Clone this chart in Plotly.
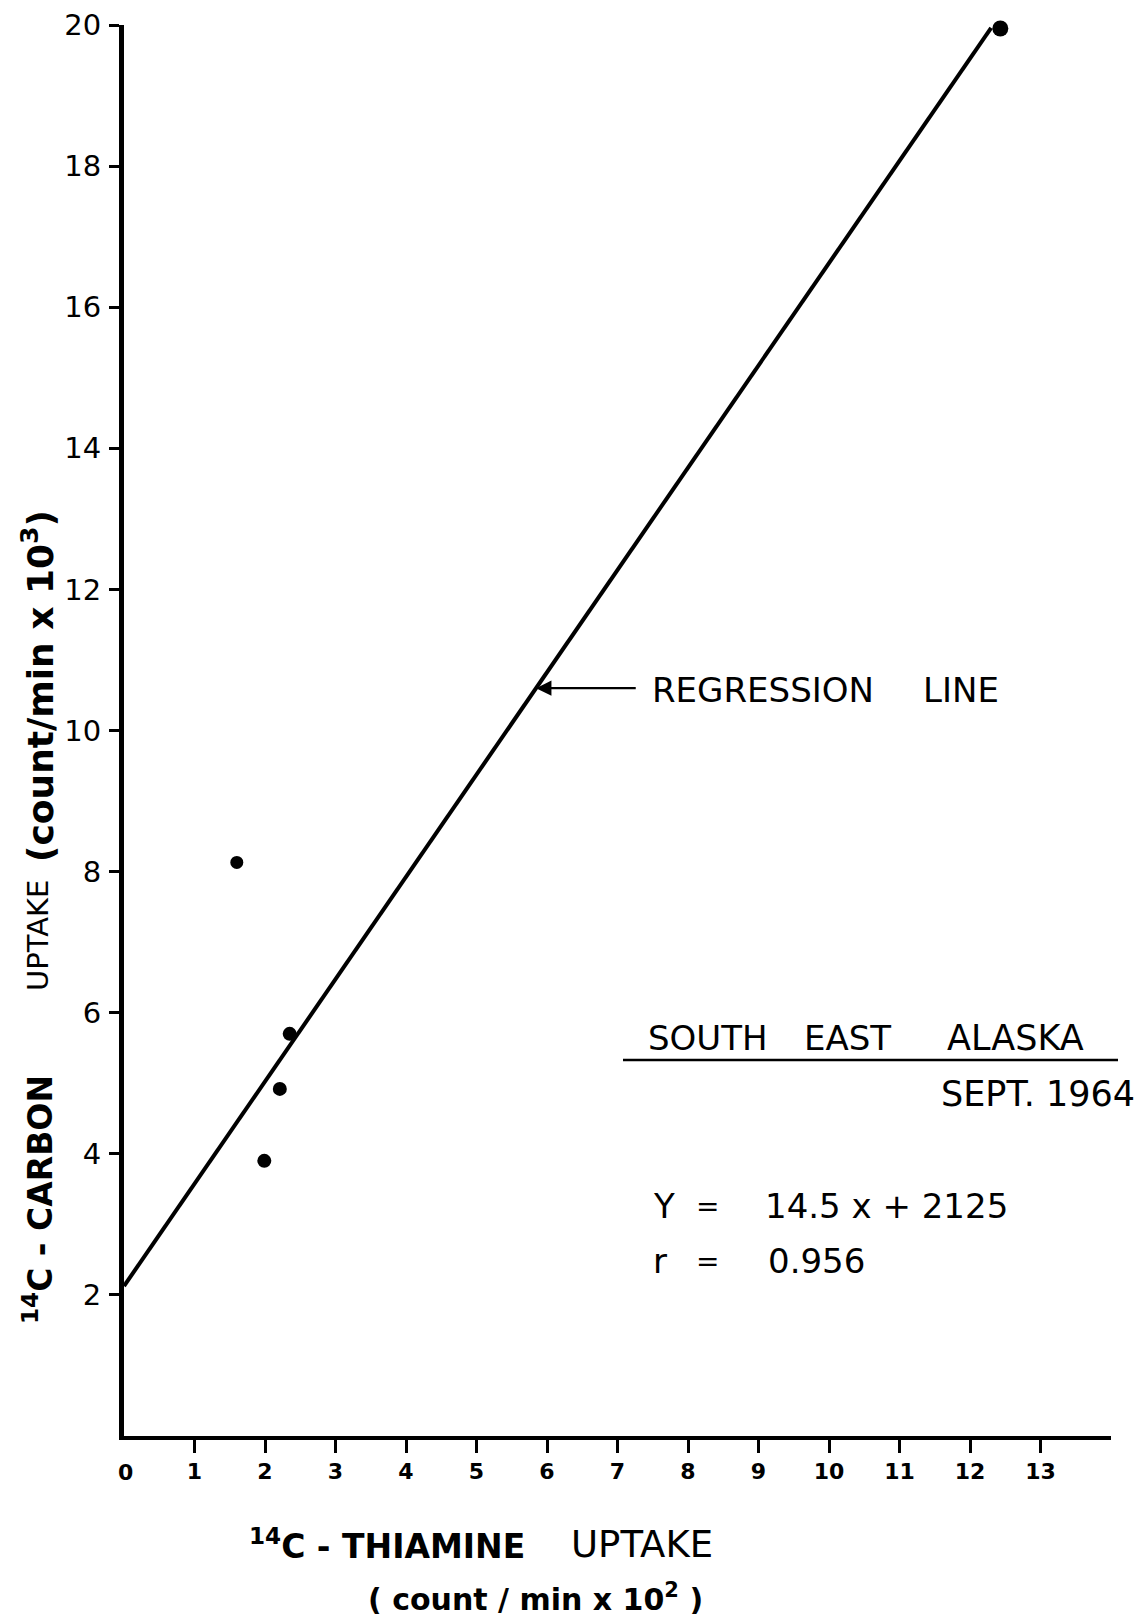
import plotly.graph_objects as go

# Measured uptake (x: thiamine, count/min x 10^2; y: carbon, count/min x 10^3)
thiamine_uptake = [1.60, 1.99, 2.21, 2.35, 12.43]
carbon_uptake = [8.13, 3.90, 4.92, 5.70, 19.95]

# Regression Y = 14.5x + 2125, expressed in plotted units
slope = 1.45
intercept = 2.125
line_x = [0.0, 12.3]
line_y = [slope * v + intercept for v in line_x]

x_ticks = list(range(1, 14))
y_ticks = list(range(2, 21, 2))

FONT = "DejaVu Sans"
INK = "#000000"

W, H = 1144, 1623
M_L, M_R, M_T, M_B = 124, 33, 25, 187
PLOT_W = W - M_L - M_R
PLOT_H = H - M_T - M_B


def px(xp):
    """Page pixel column -> paper fraction of the plot area."""
    return (xp - M_L) / PLOT_W


def py(yp):
    """Page pixel row -> paper fraction of the plot area."""
    return (H - M_B - yp) / PLOT_H


fig = go.Figure()

fig.add_trace(go.Scatter(
    x=line_x, y=line_y, mode="lines",
    line=dict(color=INK, width=4), hoverinfo="skip", cliponaxis=False,
))

fig.add_trace(go.Scatter(
    x=thiamine_uptake, y=carbon_uptake, mode="markers",
    marker=dict(color=INK, size=[13, 14, 14, 14, 16], opacity=1,
                line=dict(width=0)),
    cliponaxis=False,
))


def label(x, y, text, size=34, anchor="left", bold=False, angle=0):
    return dict(x=x, y=y, xref="paper", yref="paper", xanchor=anchor, yanchor="middle",
                text=text, showarrow=False, textangle=angle,
                font=dict(family=FONT, size=size, color=INK, weight=700 if bold else 400))


annotations = []

# "0" at the origin, set apart from the x tick marks
annotations.append(label(px(125), py(1472), "0", size=22, anchor="center", bold=True))

# Regression line callout
arrow_y = 10.6
annotations.append(dict(
    x=(arrow_y - intercept) / slope, y=arrow_y, xref="x", yref="y",
    ax=7.28, ay=arrow_y, axref="x", ayref="y", text="",
    showarrow=True, arrowhead=2, arrowsize=1.4, arrowwidth=2.2, arrowcolor=INK, standoff=0,
))
annotations.append(label(px(650), py(690), "REGRESSION"))
annotations.append(label(px(921), py(690), "LINE"))

# Location / date block
annotations.append(label(px(646), py(1038), "SOUTH"))
annotations.append(label(px(802), py(1038), "EAST"))
annotations.append(label(px(945), py(1038), "ALASKA", size=35))
annotations.append(label(px(1137), py(1094), "SEPT. 1964", size=35, anchor="right"))

# Equation and correlation
for sym, row in (("Y", 1206), ("r", 1261)):
    annotations.append(label(px(651), py(row), sym))
    annotations.append(label(px(707), py(row), "=", size=28, anchor="center"))
annotations.append(label(px(763), py(1206), "14.5 x + 2125"))
annotations.append(label(px(766), py(1261), "0.956"))

# X axis title
annotations.append(label(px(247), py(1544), "<sup>14</sup>C -&nbsp;THIAMINE", size=33, bold=True))
annotations.append(label(px(569), py(1544), "UPTAKE", size=37))
annotations.append(label(px(535), py(1597), "( count / min x 10<sup>2</sup> )", size=30,
                         anchor="center", bold=True))

# Y axis title, read bottom to top
annotations.append(label(px(38), py(1200), "<sup>14</sup>C -&nbsp;CARBON", size=33,
                         anchor="center", bold=True, angle=-90))
annotations.append(label(px(38), py(936), "UPTAKE", size=29, anchor="center", angle=-90))
annotations.append(label(px(38), py(686), "(count/min x 10<sup>3</sup>)", size=36,
                         anchor="center", bold=True, angle=-90))

fig.update_layout(
    template="none",
    width=W, height=H,
    margin=dict(l=M_L, r=M_R, t=M_T, b=M_B),
    paper_bgcolor="white", plot_bgcolor="white",
    showlegend=False,
    annotations=annotations,
    shapes=[dict(type="line", xref="paper", yref="paper",
                 x0=px(623), x1=px(1118), y0=py(1060), y1=py(1060),
                 line=dict(color=INK, width=2.5))],
)

fig.update_xaxes(
    range=[0, 14], showgrid=False, zeroline=False,
    showline=True, linecolor=INK, linewidth=4,
    tickvals=x_ticks, ticktext=[str(v) for v in x_ticks],
    ticks="outside", ticklen=13, tickwidth=3, tickcolor=INK,
    ticklabelstandoff=0,
    tickfont=dict(family=FONT, size=22, color=INK, weight=700),
)
fig.update_yaxes(
    range=[0, 20], showgrid=False, zeroline=False,
    showline=True, linecolor=INK, linewidth=5,
    tickvals=y_ticks, ticktext=[str(v) for v in y_ticks],
    ticks="outside", ticklen=10, tickwidth=3, tickcolor=INK,
    ticklabelstandoff=2,
    tickfont=dict(family=FONT, size=29, color=INK),
)

fig.write_html("out.html")
